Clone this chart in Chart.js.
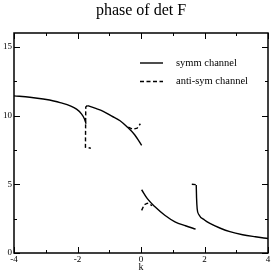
<!DOCTYPE html>
<html>
<head>
<meta charset="utf-8">
<script src="https://cdn.jsdelivr.net/npm/chart.js@4"></script>
<style>
  html, body { margin: 0; padding: 0; background: #fff; }
  #wrap { width: 273px; height: 273px; }
</style>
</head>
<body>
<div id="wrap"><canvas id="myChart"></canvas></div>
<script>
// symm channel, segments split by null
var symmK = [-4, -3.5, -3.08, -2.55, -2.03, -1.87, -1.78, -1.73, null,
             -1.69, -1.45, -1.19, -0.92, -0.66, -0.45, -0.2, 0.02, null,
             0.02, 0.2, 0.44, 0.75, 1.07, 1.4, 1.72, null,
             1.74, 1.75, 1.77, 1.82, 2.0, 2.17, 2.5, 2.8, 3.2, 3.6, 4.0];
var symmPhase = [11.43, 11.33, 11.2, 10.94, 10.46, 10.1, 9.75, 9.4, null,
                 10.72, 10.53, 10.3, 9.95, 9.62, 9.2, 8.6, 7.83, null,
                 4.6, 3.95, 3.36, 2.75, 2.27, 1.98, 1.74, null,
                 4.95, 4.0, 3.2, 2.8, 2.4, 2.15, 1.8, 1.55, 1.33, 1.18, 1.05];
// anti-sym channel
var antiK = [-1.69, -1.74, -1.75, -1.58, null,
             -0.4, -0.25, -0.12, -0.02, null,
             0.02, 0.1, 0.2, 0.35, null,
             1.6, 1.73];
var antiPhase = [10.72, 10.62, 7.7, 7.62, null,
                 9.15, 9.0, 9.08, 9.4, null,
                 3.1, 3.5, 3.62, 3.45, null,
                 5.0, 4.97];

var xTicks = [-4, -3, -2, -1, 0, 1, 2, 3, 4];
var yTicks = [0, 2.5, 5, 7.5, 10, 12.5, 15];
var labels = ['symm channel', 'anti-sym channel'];

function pts(ks, vs) {
  var out = [];
  for (var i = 0; i < ks.length; i++) {
    out.push(ks[i] === null ? { x: NaN, y: null } : { x: ks[i], y: vs[i] });
  }
  return out;
}

var serif = '"Liberation Serif", "DejaVu Serif", serif';

// frame, inward ticks, title, x title and legend
var decor = {
  id: 'decor',
  afterDraw: function (chart) {
    var c = chart.ctx, a = chart.chartArea;
    var xs = chart.scales.x, ys = chart.scales.y;
    c.save();
    c.strokeStyle = '#000';
    c.lineWidth = 1.5;
    c.strokeRect(a.left, a.top, a.right - a.left, a.bottom - a.top);
    c.lineWidth = 1;
    xTicks.forEach(function (v) {
      var p = Math.round(xs.getPixelForValue(v)) + 0.5;
      var len = (v % 2 === 0) ? 6 : 3;
      c.beginPath();
      c.moveTo(p, a.bottom); c.lineTo(p, a.bottom - len);
      c.moveTo(p, a.top); c.lineTo(p, a.top + len);
      c.stroke();
    });
    yTicks.forEach(function (v) {
      var p = Math.round(ys.getPixelForValue(v)) + 0.5;
      var len = (v % 5 === 0) ? 6 : 3;
      c.beginPath();
      c.moveTo(a.left, p); c.lineTo(a.left + len, p);
      c.moveTo(a.right, p); c.lineTo(a.right - len, p);
      c.stroke();
    });
    c.fillStyle = '#000';
    c.textAlign = 'center';
    c.textBaseline = 'middle';
    c.font = '16px ' + serif;
    c.fillText('phase of det F', (a.left + a.right) / 2, 11);
    c.font = '10px ' + serif;
    c.fillText('k', (a.left + a.right) / 2, 267);
    // legend
    c.textAlign = 'left';
    chart.data.datasets.forEach(function (ds, i) {
      var yy = 63 + i * 18.5;
      c.lineWidth = ds.borderWidth;
      c.setLineDash(ds.borderDash || []);
      c.beginPath();
      c.moveTo(140, yy); c.lineTo(163, yy);
      c.stroke();
      c.setLineDash([]);
      c.font = '10.5px ' + serif;
      c.fillText(labels[i], 176, yy);
    });
    c.restore();
  }
};

var ctx = document.getElementById('myChart');
var myChart = new Chart(ctx, {
  type: 'scatter',
  data: {
    datasets: [
      {
        label: labels[0],
        data: pts(symmK, symmPhase),
        showLine: true,
        spanGaps: false,
        borderColor: '#000',
        borderWidth: 1.4,
        pointRadius: 0,
        cubicInterpolationMode: 'monotone'
      },
      {
        label: labels[1],
        data: pts(antiK, antiPhase),
        showLine: true,
        spanGaps: false,
        borderColor: '#000',
        borderWidth: 1.4,
        borderDash: [4, 2.5],
        pointRadius: 0,
        tension: 0
      }
    ]
  },
  options: {
    responsive: true,
    maintainAspectRatio: false,
    animation: false,
    layout: { padding: { top: 33, right: 5, left: 0, bottom: 0 } },
    plugins: { legend: { display: false }, title: { display: false }, tooltip: { enabled: false } },
    scales: {
      x: {
        type: 'linear',
        min: -4, max: 4,
        grid: { display: false, drawTicks: false },
        border: { display: false },
        afterFit: function (s) { s.height = 20; },
        afterBuildTicks: function (s) { s.ticks = [-4, -2, 0, 2, 4].map(function (v) { return { value: v }; }); },
        ticks: {
          padding: 1,
          maxRotation: 0,
          color: '#000',
          font: { family: serif, size: 9 },
          callback: function (v) { return String(v); }
        }
      },
      y: {
        type: 'linear',
        min: 0, max: 16,
        grid: { display: false, drawTicks: false },
        border: { display: false },
        afterFit: function (s) { s.width = 14; },
        afterBuildTicks: function (s) { s.ticks = [0, 5, 10, 15].map(function (v) { return { value: v }; }); },
        ticks: {
          padding: 2,
          color: '#000',
          font: { family: serif, size: 9 },
          callback: function (v) { return String(v); }
        }
      }
    }
  },
  plugins: [decor]
});
</script>
</body>
</html>
